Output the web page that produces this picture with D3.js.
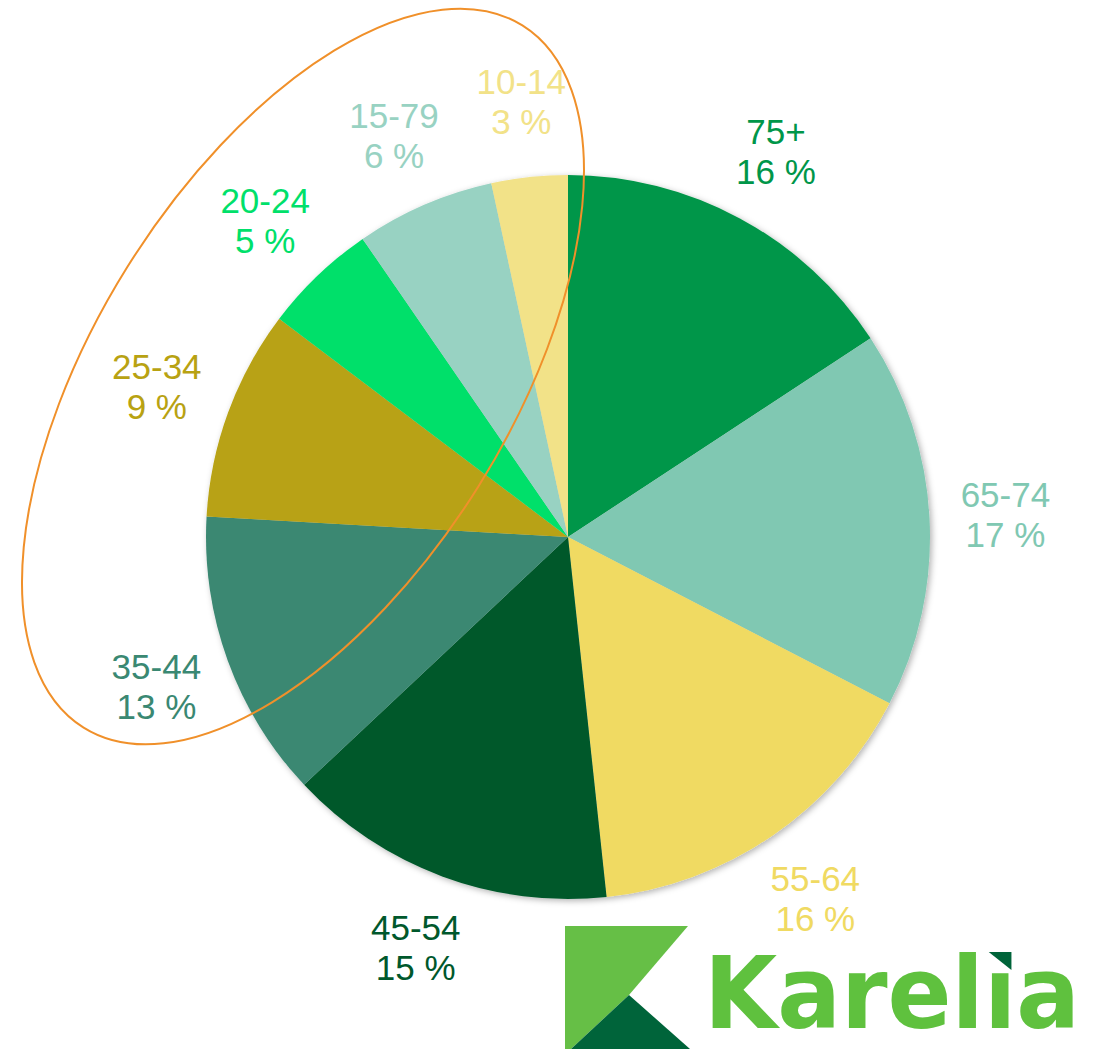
<!DOCTYPE html>
<html>
<head>
<meta charset="utf-8">
<title>Age groups</title>
<script src="https://cdn.jsdelivr.net/npm/d3@7"></script>
<style>
  body { margin: 0; background: #fff; }
  svg { display: block; }
  .lbl { font-family: "Liberation Sans", Arial, sans-serif; font-size: 35px; }
</style>
</head>
<body>
<div id="chart"></div>
<script>
// slices, clockwise from 12 o'clock
const groups  = ["75+", "65-74", "55-64", "45-54", "35-44", "25-34", "20-24", "15-79", "10-14"];
const shares  = [15.75, 16.85, 15.7, 14.7, 12.9, 9.4, 5.1, 6.2, 3.4];
const colours = ["#009649", "#80c8b2", "#f0da62", "#00582c", "#3a8872", "#b8a212", "#00e06a", "#98d2c2", "#f2e288"];

const W = 1112, H = 1049;
const cx = 568, cy = 537, R = 362;
const labelR = 438;

const svg = d3.select("#chart").append("svg")
    .attr("width", W)
    .attr("height", H);

const defs = svg.append("defs");
defs.append("filter")
    .attr("id", "shadow")
    .attr("x", "-10%").attr("y", "-10%")
    .attr("width", "120%").attr("height", "120%")
  .append("feDropShadow")
    .attr("dx", 2).attr("dy", 2)
    .attr("stdDeviation", 3)
    .attr("flood-color", "#000")
    .attr("flood-opacity", 0.3);

const data = groups.map((g, i) => ({ group: g, value: shares[i], colour: colours[i] }));

const pie = d3.pie().value(d => d.value).sort(null);
const arcs = pie(data);
const arc = d3.arc().innerRadius(0).outerRadius(R);
const labelArc = d3.arc().innerRadius(labelR).outerRadius(labelR);

const g = svg.append("g").attr("transform", `translate(${cx},${cy})`);

g.append("g")
    .attr("filter", "url(#shadow)")
  .selectAll("path")
  .data(arcs)
  .join("path")
    .attr("d", arc)
    .attr("fill", d => d.data.colour);

// labels: name + rounded percentage, centred on an outer ring
const labels = g.append("g")
  .selectAll("text")
  .data(arcs)
  .join("text")
    .attr("class", "lbl")
    .attr("text-anchor", "middle")
    .attr("fill", d => d.data.colour);

labels.append("tspan")
    .attr("x", 0)
    .attr("y", 0)
    .text(d => d.data.group);
labels.append("tspan")
    .attr("x", 0)
    .attr("y", 40)
    .text(d => Math.round(d.data.value) + " %");

labels.each(function(d) {
    const bb = this.getBBox();
    const [x, y] = labelArc.centroid(d);
    const tx = x - (bb.x + bb.width / 2);
    const ty = y - (bb.y + bb.height / 2);
    d3.select(this).attr("transform", `translate(${tx},${ty})`);
});

// orange loop round the younger groups
svg.append("ellipse")
    .attr("cx", 303)
    .attr("cy", 376.5)
    .attr("rx", 414)
    .attr("ry", 207)
    .attr("transform", "rotate(-58 303 376.5)")
    .attr("fill", "none")
    .attr("stroke", "#f0902a")
    .attr("stroke-width", 2);

// Karelia logo
const logo = svg.append("g");
logo.append("polygon")
    .attr("points", "565,926 688,926 629,995 571,1049 565,1049")
    .attr("fill", "#66bf46");
logo.append("polygon")
    .attr("points", "629,995 690,1049 571,1049")
    .attr("fill", "#00643a");
const word = logo.append("text")
    .attr("x", 704)
    .attr("y", 1028)
    .attr("textLength", 376)
    .attr("lengthAdjust", "spacingAndGlyphs")
    .attr("font-family", "DejaVu Sans, sans-serif")
    .attr("font-weight", "bold")
    .attr("font-size", 100)
    .attr("fill", "#5fc13e")
    .text("Karelia");

// the i carries a dark-green wedge instead of a round dot
const iBox = word.node().getExtentOfChar(5);
const dotTop = 1028 - 100 * 0.76, dotBot = 1028 - 100 * 0.58;
logo.append("rect")
    .attr("x", iBox.x - 1)
    .attr("y", dotTop - 2)
    .attr("width", iBox.width + 2)
    .attr("height", dotBot - dotTop + 4)
    .attr("fill", "#fff");
const ix0 = iBox.x + iBox.width * 0.15, ix1 = iBox.x + iBox.width * 0.85;
logo.append("polygon")
    .attr("points", `${ix0},${dotTop} ${ix1},${dotTop} ${ix1},${dotBot}`)
    .attr("fill", "#00643a");
</script>
</body>
</html>
